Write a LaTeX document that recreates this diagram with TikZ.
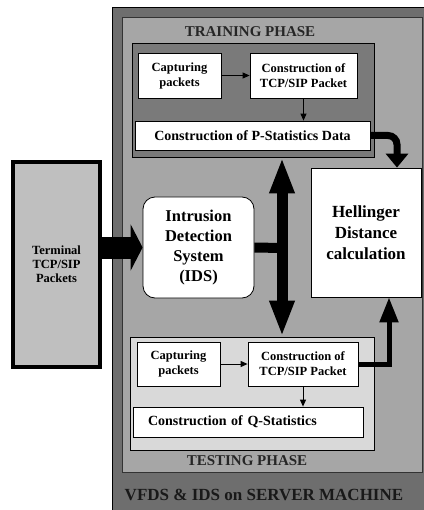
\documentclass[tikz,border=0pt]{standalone}
\usepackage{fontspec}
\setmainfont{Liberation Serif}
\usetikzlibrary{arrows.meta}

\tikzset{
  whitebox/.style={draw=black, fill=white, line width=0.8pt, align=center,
    inner sep=0pt, font=\bfseries\fontsize{12.5}{15}\selectfont},
  statbox/.style={whitebox, font=\bfseries\fontsize{14}{16}\selectfont},
  phasebox/.style={draw=black, line width=0.8pt, inner sep=0pt},
  phasetitle/.style={font=\bfseries\fontsize{15}{17}\selectfont, text=black!85},
  thinarrow/.style={line width=1pt, -{Triangle[length=7pt,width=6pt]}},
}

\begin{document}
\begin{tikzpicture}[x=1pt, y=-1pt]
\useasboundingbox (0,0) rectangle (423,510);

% server machine
\filldraw[fill=black!57, draw=black, line width=0.8pt] (112,7) rectangle (426,514);
\filldraw[fill=black!35, draw=black!80, line width=0.8pt] (122,17) rectangle (422,472);

% phases
\node[phasebox, fill=black!52, minimum width=242pt, minimum height=114pt] (training) at (253,100) {};
\node[phasebox, fill=black!15, minimum width=244pt, minimum height=113pt] (testing) at (252,393.5) {};

\node[whitebox, minimum width=83pt, minimum height=45pt] (cap1) at (179.5,75.5) {Capturing\\packets};
\node[whitebox, minimum width=107pt, minimum height=45pt] (tcp1) at (303.5,75.5) {Construction of\\TCP/SIP Packet};
\node[statbox, minimum width=235pt, minimum height=29pt] (pstat) at (252.5,135.5) {Construction of P-Statistics Data};

\node[whitebox, minimum width=83pt, minimum height=44pt] (cap2) at (178.5,364) {Capturing\\packets};
\node[whitebox, minimum width=110pt, minimum height=44pt] (tcp2) at (303,364) {Construction of\\TCP/SIP Packet};
\node[statbox, text width=200pt, align=left, inner xsep=15pt, minimum height=30pt] (qstat) at (248,422) {Construction of Q-Statistics};

\node[whitebox, minimum width=110pt, minimum height=129pt, font=\bfseries\fontsize{17}{21}\selectfont] (hell) at (366,232.5) {Hellinger\\Distance\\calculation};
\node[whitebox, rounded corners=12pt, minimum width=111pt, minimum height=101pt, font=\bfseries\fontsize{16.5}{20}\selectfont] (ids) at (198.5,247.5) {Intrusion\\Detection\\System\\(IDS)};

\node[draw=black, fill=black!25, line width=4pt, minimum width=87pt, minimum height=205pt, align=center, font=\bfseries\fontsize{12.5}{14}\selectfont] (term) at (56.5,264.5) {Terminal\\TCP/SIP\\Packets};

% arrows
\draw[line width=22pt, -{Triangle[length=12pt,width=46pt]}] (term.east |- ids.west) -- (ids.west);

\coordinate (bus) at (282,248);
\draw[line width=10pt] (ids.east) -- (bus);
\draw[line width=11pt, {Triangle[length=36pt,width=23pt]}-{Triangle[length=36pt,width=23pt]}] (bus |- training.south) -- (bus |- testing.north);

\draw[line width=7pt, rounded corners=9pt, -{Triangle[length=14pt,width=22pt]}] (pstat.east) -| ([xshift=31pt]hell.north);
\draw[line width=5pt, -{Triangle[length=25pt,width=18pt]}] (tcp2.east) -| ([xshift=23pt]hell.south);

\draw[thinarrow] (cap1.east) -- (tcp1.west);
\draw[thinarrow] (tcp1.south) -- (tcp1.south |- pstat.north);
\draw[thinarrow] (cap2.east) -- (tcp2.west);
\draw[thinarrow] (tcp2.south) -- (tcp2.south |- qstat.north);

% titles
\node[phasetitle] (traintitle) at (250,32) {TRAINING PHASE};
\node[phasetitle] (testtitle) at (247,461) {TESTING PHASE};
\node[font=\bfseries\fontsize{17}{19}\selectfont, text=black!90] (servertitle) at (264,495) {VFDS \& IDS on SERVER MACHINE};

\end{tikzpicture}
\end{document}
